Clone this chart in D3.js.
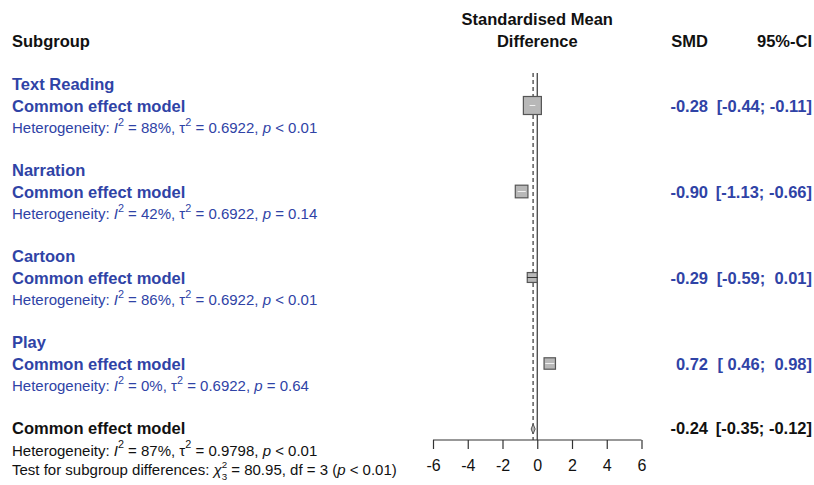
<!DOCTYPE html>
<html>
<head>
<meta charset="utf-8">
<script src="https://cdn.jsdelivr.net/npm/d3@7"></script>
<style>
  body { margin: 0; background: #fff; }
  svg { font-family: "Liberation Sans", Arial, sans-serif; }
  text { white-space: pre; }
</style>
</head>
<body>
<svg width="814" height="485"></svg>
<script>
const svg = d3.select("svg");
const width = +svg.attr("width");
const height = +svg.attr("height");

// data
const subgroups = ["Text Reading", "Narration", "Cartoon", "Play"];
const smd = [-0.28, -0.90, -0.29, 0.72];
const ciLower = [-0.44, -1.13, -0.59, 0.46];
const ciUpper = [-0.11, -0.66, 0.01, 0.98];
const i2 = ["88%", "42%", "86%", "0%"];
const tau2 = ["0.6922", "0.6922", "0.6922", "0.6922"];
const pval = ["< 0.01", "= 0.14", "< 0.01", "= 0.64"];

const overall = { smd: -0.24, lower: -0.35, upper: -0.12, i2: "87%", tau2: "0.9798", p: "< 0.01" };
const subgroupTest = { chi2: "80.95", df: "3", p: "< 0.01" };
const xTicks = [-6, -4, -2, 0, 2, 4, 6];

const blue = "#2f43a6";
const dark = "#111";
const bold = 16.5;
const small = 15;

const x = d3.scaleLinear().domain([-6, 6]).range([433, 641.5]);
const rowY = k => 90 + 21.5 * k;

// box size from inverse-variance weights
const weights = smd.map((d, i) => {
  const se = (ciUpper[i] - ciLower[i]) / 3.92;
  return 1 / (se * se);
});
const boxSize = d3.scaleSqrt().domain([0, d3.max(weights)]).range([0, 18]);

const fmt = v => d3.format(".2f")(v).replace("−", "-");
const pad = v => (v < 0 ? "" : " ") + fmt(v);
const ciText = (lo, hi) => `[${pad(lo)}; ${pad(hi)}]`;

// rich text helper: parts with optional italic / sup / sub
function richText(g, xPos, y, parts, color, size) {
  const t = g.append("text").attr("x", xPos).attr("y", y)
    .attr("fill", color).attr("font-size", size);
  let shift = 0;
  parts.forEach(p => {
    const s = t.append("tspan").text(p.t);
    let target = 0;
    if (p.sup) target = -size * 0.47;
    if (p.sub) target = size * 0.34;
    if (p.sup || p.sub) s.attr("font-size", size * (p.small ? 0.65 : 0.72));
    if (p.it) s.attr("font-style", "italic");
    if (p.dx) s.attr("dx", p.dx);
    if (target !== shift) { s.attr("dy", target - shift); shift = target; }
  });
  return t;
}

const hetParts = (I, tau, p) => [
  { t: "Heterogeneity: " }, { t: "I", it: true }, { t: "2", sup: true },
  { t: " = " + I + ", τ" }, { t: "2", sup: true },
  { t: " = " + tau + ", " }, { t: "p", it: true }, { t: " " + p }
];

const g = svg.append("g");

// headers
g.append("text").attr("x", 12).attr("y", 47).attr("font-weight", "bold")
  .attr("font-size", bold).attr("fill", dark).text("Subgroup");
g.append("text").attr("x", x(0)).attr("y", 25).attr("text-anchor", "middle")
  .attr("font-weight", "bold").attr("font-size", bold).attr("fill", dark).text("Standardised Mean");
g.append("text").attr("x", x(0)).attr("y", 47).attr("text-anchor", "middle")
  .attr("font-weight", "bold").attr("font-size", bold).attr("fill", dark).text("Difference");
g.append("text").attr("x", 708).attr("y", 47).attr("text-anchor", "end")
  .attr("font-weight", "bold").attr("font-size", bold).attr("fill", dark).text("SMD");
g.append("text").attr("x", 812).attr("y", 47).attr("text-anchor", "end")
  .attr("font-weight", "bold").attr("font-size", bold).attr("fill", dark).text("95%-CI");

// reference lines
g.append("line").attr("x1", x(0)).attr("x2", x(0)).attr("y1", 73).attr("y2", 440)
  .attr("stroke", "#333").attr("stroke-width", 1.2);
g.append("line").attr("x1", x(overall.smd)).attr("x2", x(overall.smd)).attr("y1", 73).attr("y2", 440)
  .attr("stroke", "#222").attr("stroke-width", 1.1).attr("stroke-dasharray", "4,3");

// subgroup blocks
subgroups.forEach((name, i) => {
  const k = i * 4;
  g.append("text").attr("x", 12).attr("y", rowY(k)).attr("font-weight", "bold")
    .attr("font-size", bold).attr("fill", blue).text(name);
  g.append("text").attr("x", 12).attr("y", rowY(k + 1)).attr("font-weight", "bold")
    .attr("font-size", bold).attr("fill", blue).text("Common effect model");
  richText(g, 12, rowY(k + 2), hetParts(i2[i], tau2[i], pval[i]), blue, small);

  g.append("text").attr("x", 708).attr("y", rowY(k + 1)).attr("text-anchor", "end")
    .attr("font-weight", "bold").attr("font-size", bold).attr("fill", blue).text(fmt(smd[i]));
  g.append("text").attr("x", 812).attr("y", rowY(k + 1)).attr("text-anchor", "end")
    .attr("font-weight", "bold").attr("font-size", bold).attr("fill", blue).text(ciText(ciLower[i], ciUpper[i]));

  // box and CI
  const cy = rowY(k + 1) - 6;
  const s = boxSize(weights[i]);
  const inside = x(ciLower[i]) >= x(smd[i]) - s / 2 && x(ciUpper[i]) <= x(smd[i]) + s / 2;
  g.append("line").attr("x1", x(ciLower[i])).attr("x2", x(ciUpper[i]))
    .attr("y1", cy).attr("y2", cy).attr("stroke", "#333").attr("stroke-width", 1);
  g.append("rect").attr("x", x(smd[i]) - s / 2).attr("y", cy - s / 2)
    .attr("width", s).attr("height", s)
    .attr("fill", "#b8b8b8").attr("stroke", "#555").attr("stroke-width", 1.2);
  g.append("line").attr("x1", x(ciLower[i])).attr("x2", x(ciUpper[i]))
    .attr("y1", cy).attr("y2", cy)
    .attr("stroke", inside ? "#f0f0f0" : "#333").attr("stroke-width", 1);
});

// overall
const ko = 16;
g.append("text").attr("x", 12).attr("y", rowY(ko)).attr("font-weight", "bold")
  .attr("font-size", bold).attr("fill", dark).text("Common effect model");
g.append("text").attr("x", 708).attr("y", rowY(ko)).attr("text-anchor", "end")
  .attr("font-weight", "bold").attr("font-size", bold).attr("fill", dark).text(fmt(overall.smd));
g.append("text").attr("x", 812).attr("y", rowY(ko)).attr("text-anchor", "end")
  .attr("font-weight", "bold").attr("font-size", bold).attr("fill", dark).text(ciText(overall.lower, overall.upper));
richText(g, 12, rowY(ko + 1), hetParts(overall.i2, overall.tau2, overall.p), dark, small);
richText(g, 12, rowY(ko + 2) - 2, [
  { t: "Test for subgroup differences: " }, { t: "χ", it: true }, { t: "2", sup: true, small: true },
  { t: "3", sub: true, small: true, dx: -5.5 }, { t: " = " + subgroupTest.chi2 + ", df = " + subgroupTest.df + " (" },
  { t: "p", it: true }, { t: " " + subgroupTest.p + ")" }
], dark, small);

const dy = rowY(ko) - 5;
g.append("path")
  .attr("d", `M${x(overall.lower)},${dy} L${x(overall.smd)},${dy - 5} L${x(overall.upper)},${dy} L${x(overall.smd)},${dy + 5} Z`)
  .attr("fill", "#b8b8b8").attr("stroke", "#555").attr("stroke-width", 1);

// x axis
const axis = d3.axisBottom(x).tickValues(xTicks).tickSize(9).tickPadding(11);
const axG = g.append("g").attr("transform", "translate(0,440)").call(axis);
axG.select(".domain").attr("stroke", "#333").attr("stroke-width", 1.2).attr("d", `M${x(-6)},0H${x(6)}`);
axG.selectAll(".tick line").attr("stroke", "#333").attr("stroke-width", 1.2);
axG.selectAll(".tick text").attr("font-size", 16).attr("fill", dark)
  .attr("font-family", "Liberation Sans, Arial, sans-serif").text(d => d < 0 ? "-" + Math.abs(d) : d);
</script>
</body>
</html>
